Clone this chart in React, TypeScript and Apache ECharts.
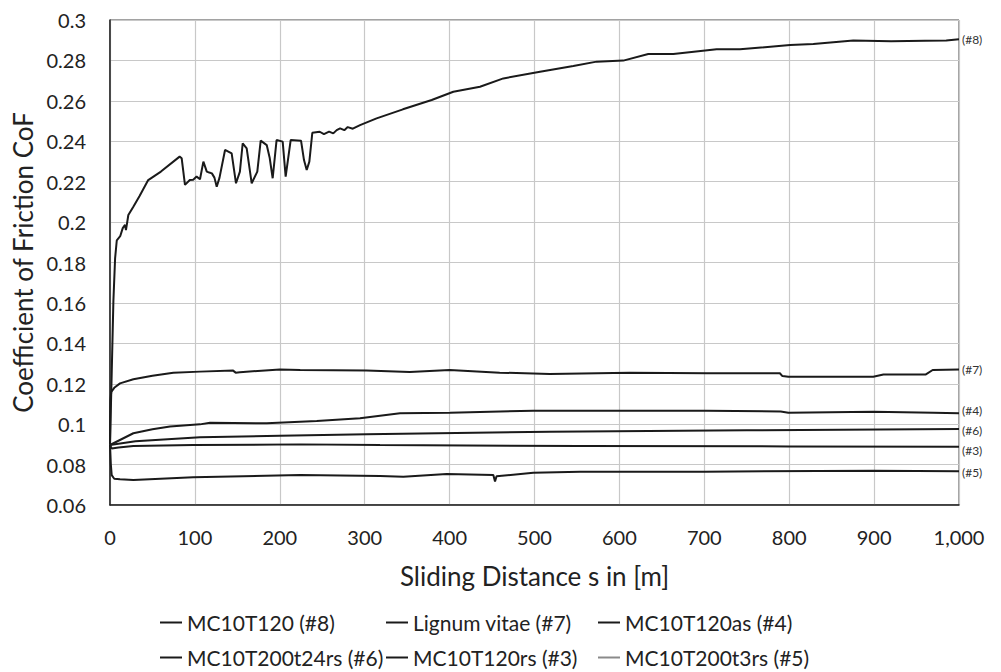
import React, { useEffect, useRef } from "react";
import * as echarts from "echarts";

type Pt = [number, number];

const seriesNames = [
  "MC10T120 (#8)",
  "Lignum vitae (#7)",
  "MC10T120as (#4)",
  "MC10T200t24rs (#6)",
  "MC10T120rs (#3)",
  "MC10T200t3rs (#5)",
];
const endTags = ["(#8)", "(#7)", "(#4)", "(#6)", "(#3)", "(#5)"];

const s8: Pt[] = [
  [0, 0.09], [2, 0.125], [4, 0.161], [6, 0.182], [8, 0.191], [12, 0.193], [15, 0.197],
  [17.7, 0.1986], [18.8, 0.196], [21.6, 0.2035], [27.5, 0.2076], [35, 0.213], [45, 0.2208],
  [60, 0.225], [82, 0.2324], [84.4, 0.2316], [88.3, 0.2184], [94, 0.2208], [98, 0.221],
  [102, 0.2225], [106, 0.2212], [110, 0.2299], [114, 0.225], [117, 0.2245], [120, 0.2241],
  [123, 0.222], [125.7, 0.2175], [129, 0.222], [135.5, 0.2357], [143.3, 0.234], [148.4, 0.2192],
  [153, 0.225], [156.3, 0.239], [161, 0.2365], [166.9, 0.2192], [173.5, 0.225], [177.5, 0.2403],
  [184.6, 0.2381], [188, 0.232], [191.6, 0.2217], [196.2, 0.2406], [203.4, 0.2398],
  [206.9, 0.2225], [212.8, 0.2406], [225, 0.2403], [228.5, 0.2307], [231.7, 0.2258],
  [234.8, 0.2299], [238.3, 0.2442], [247, 0.2447], [252, 0.2435], [258, 0.2448], [263, 0.2439],
  [267, 0.2455], [271, 0.2464], [276, 0.2455], [280, 0.247], [286, 0.2462], [294.5, 0.248],
  [314, 0.2513], [345, 0.2558], [378.9, 0.2604], [404.4, 0.2645], [435.8, 0.267],
  [463.3, 0.2711], [506.5, 0.2744], [545.7, 0.2772], [573.2, 0.2794], [604.6, 0.2799],
  [634, 0.2832], [663.5, 0.2832], [714.5, 0.2855], [742, 0.2855], [801, 0.2876],
  [828.4, 0.2881], [875.5, 0.2898], [920, 0.2895], [960, 0.2897], [985, 0.2898], [1000, 0.2905],
];

const s7: Pt[] = [
  [0, 0.09], [0.5, 0.112], [1.5, 0.116], [5, 0.118], [11.8, 0.1202], [27.5, 0.1222],
  [50, 0.124], [74.6, 0.1255], [106, 0.126], [145, 0.1265], [148, 0.1255], [153, 0.1257],
  [200, 0.1271], [224, 0.1268], [302, 0.1265], [353, 0.1258], [400, 0.1268], [459, 0.1255],
  [518, 0.1248], [612, 0.1255], [703, 0.1252], [789, 0.1252], [792, 0.1238], [799, 0.1235],
  [899, 0.1235], [911, 0.1246], [961, 0.1246], [969, 0.1268], [1000, 0.1271],
];

const s4: Pt[] = [
  [0, 0.0897], [27.5, 0.0955], [50, 0.0975], [70.7, 0.0988], [106, 0.0999], [117.8, 0.1007],
  [184.6, 0.1004], [243.5, 0.1016], [294.5, 0.1029], [341.6, 0.1054], [400.5, 0.1057],
  [498.6, 0.1067], [600, 0.1067], [703, 0.1067], [790, 0.1063], [799, 0.1057], [899, 0.1062],
  [970, 0.1057], [1000, 0.1054],
];

const s6: Pt[] = [
  [0, 0.0897], [30, 0.0915], [106, 0.0935], [200, 0.0943], [302, 0.095], [518, 0.0963],
  [750, 0.097], [1000, 0.0976],
];

const s3: Pt[] = [
  [0, 0.0897], [2, 0.088], [10, 0.0885], [27.5, 0.0892], [98, 0.0897], [224, 0.09],
  [318, 0.0897], [553.6, 0.0892], [800, 0.089], [1000, 0.0888],
];

const s5: Pt[] = [
  [0, 0.0897], [1, 0.08], [2, 0.0748], [5, 0.073], [11.8, 0.0727], [27.5, 0.0724],
  [98, 0.0737], [224, 0.0748], [318, 0.0743], [345.5, 0.074], [396.6, 0.0753],
  [451.5, 0.0748], [453.5, 0.0716], [455.3, 0.0742], [498.6, 0.076], [553.6, 0.0765],
  [700, 0.0765], [900, 0.077], [1000, 0.0767],
];

const allData = [s8, s7, s4, s6, s3, s5];
const labelOffsets: Pt[] = [[0, 0], [0, 0], [0, -3], [0, 1], [0, 4], [0, 1]];

const legendPos = [
  { left: 160, top: 612 },
  { left: 386, top: 612 },
  { left: 598, top: 612 },
  { left: 160, top: 647 },
  { left: 386, top: 647 },
  { left: 598, top: 647 },
];

const FONT = "Lato";

export default function App() {
  const ref = useRef<HTMLDivElement>(null);
  useEffect(() => {
    if (!ref.current) return;
    const chart = echarts.init(ref.current, undefined, { renderer: "svg" });
    const lineColor = "#1a1a1a";
    chart.setOption({
      animation: false,
      backgroundColor: "#ffffff",
      textStyle: { fontFamily: FONT },
      grid: {
        left: 110,
        top: 20,
        right: 42,
        bottom: 167,
        show: true,
        borderColor: "#444",
        borderWidth: 1,
      },
      legend: seriesNames.map((n, i) => ({
        left: legendPos[i].left,
        top: legendPos[i].top,
        data: [
          {
            name: n,
            itemStyle: { color: i === 5 ? "#8a8a8a" : lineColor },
          },
        ],
        icon: "rect",
        itemWidth: 22,
        itemHeight: 2,
        textStyle: { fontFamily: FONT, fontSize: 21, color: "#222" },
        padding: 0,
        selectedMode: false,
      })),
      xAxis: {
        type: "value",
        min: 0,
        max: 1000,
        interval: 100,
        name: "Sliding Distance s in [m]",
        nameLocation: "middle",
        nameGap: 58,
        nameTextStyle: { fontFamily: FONT, fontSize: 26, color: "#222" },
        axisLine: { show: true, lineStyle: { color: "#222", width: 1.5 } },
        axisTick: { show: false },
        axisLabel: {
          fontFamily: FONT,
          fontSize: 20,
          color: "#222",
          margin: 22,
          formatter: (v: number) => v.toLocaleString("en-US"),
        },
        splitLine: { show: true, lineStyle: { color: "#c8c8c8", width: 1.2 } },
      },
      yAxis: {
        type: "value",
        min: 0.06,
        max: 0.3,
        interval: 0.02,
        name: "Coefficient of Friction CoF",
        nameLocation: "middle",
        nameGap: 72,
        nameTextStyle: { fontFamily: FONT, fontSize: 26, color: "#222" },
        axisLine: { show: true, lineStyle: { color: "#222", width: 1.5 } },
        axisTick: { show: false },
        axisLabel: {
          fontFamily: FONT,
          fontSize: 20,
          color: "#222",
          margin: 24,
          formatter: (v: number) => String(+v.toFixed(2)),
        },
        splitLine: { show: true, lineStyle: { color: "#c8c8c8", width: 1.2 } },
      },
      series: allData.map((d, i) => ({
        name: seriesNames[i],
        type: "line",
        data: d,
        showSymbol: false,
        symbol: "none",
        lineStyle: { color: lineColor, width: 2 },
        itemStyle: { color: lineColor },
        z: 10 - i,
        endLabel: {
          show: true,
          formatter: endTags[i],
          fontFamily: FONT,
          fontSize: 12,
          color: "#333",
          distance: 3,
          offset: labelOffsets[i],
        },
      })),
    });
    return () => chart.dispose();
  }, []);
  return (
    <div
      ref={ref}
      style={{ position: "fixed", left: 0, top: 0, width: 1001, height: 672 }}
    />
  );
}
